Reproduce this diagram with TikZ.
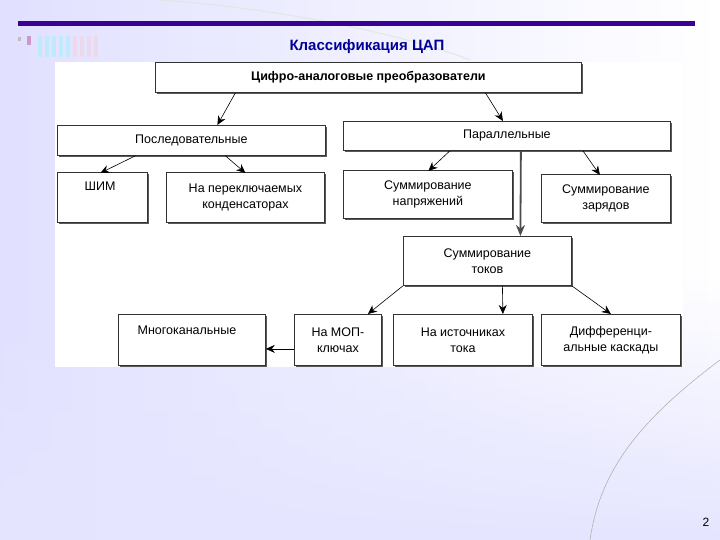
\documentclass[tikz,border=0pt]{standalone}
\usepackage{fontspec}
\setmainfont{Liberation Sans}
\usetikzlibrary{arrows.meta,fadings}
\begin{document}
\begin{tikzpicture}[x=1pt,y=-1pt,
  bx/.style={draw=black!80,line width=0.8pt,fill=white,inner sep=0pt,font=\fontsize{12.5}{16}\selectfont,align=center},
  arr/.style={-{Stealth[length=9pt,width=8pt]},line width=0.6pt},
  tarr/.style={-{Stealth[length=11pt,width=9pt]},line width=1.8pt,draw=black!70}]
\useasboundingbox (0,0) rectangle (720,540);
\shade[left color=blue!12,right color=white] (0,0) rectangle (720,540);
\fill[blue!10,path fading=north] (0,280) rectangle (720,540);
\fill[white] (55,62) rectangle (683,367);
\draw[white!80!gray,line width=1pt] (160,0) .. controls (300,10) and (420,40) .. (470,60);
\draw[gray!60,line width=0.6pt] (720,360) .. controls (640,420) and (600,470) .. (590,540);
\fill[blue!45!violet!80!black] (18,21) rectangle (695,26);
\fill[gray!50] (18,37) rectangle (21,41);
\fill[violet!40] (27,36) rectangle (31,45);
\foreach \i in {0,...,4}{\fill[cyan!25] (38+\i*7,36) rectangle (42+\i*7,57);}
\foreach \i in {0,...,3}{\fill[violet!15] (73+\i*7,36) rectangle (77+\i*7,57);}
\node[text=blue!60!black,font=\bfseries\fontsize{15}{17}\selectfont] (title) at (367,47) {Классификация ЦАП};
\node[font=\fontsize{12}{14}\selectfont] (pg) at (706,522) {2};
% boxes
\def\bxr#1#2#3#4#5#6{\fill[black!65] (#2+2,#3+2) rectangle (#4+2,#5+2);
  \node[bx,minimum width=#4-#2,minimum height=#5-#3,anchor=north west] (#1) at (#2,#3) {#6};}
\bxr{top}{155}{62}{581}{92}{\bfseries Цифро-аналоговые преобразователи}
\bxr{seq}{57}{125}{325}{155}{Последовательные}
\bxr{par}{343}{121}{670}{150}{Параллельные}
\fill[black!65] (59,174) rectangle (149,224);
\node[bx,minimum width=90,minimum height=50,anchor=north west] (pwm) at (57,172) {};
\node[font=\fontsize{12.5}{16}\selectfont] (pwmt) at (100,186) {ШИМ};
\bxr{cap}{166}{172}{324}{222}{На переключаемых\\конденсаторах}
\bxr{volt}{343}{170}{512}{218}{Суммирование\\напряжений}
\bxr{chg}{541}{174}{670}{222}{Суммирование\\зарядов}
\bxr{cur}{403}{236}{571}{285}{Суммирование\\токов}
\fill[black!65] (120,316) rectangle (267,367);
\node[bx,minimum width=147,minimum height=51,anchor=north west] (multi) at (118,314) {};
\node[font=\fontsize{12.5}{16}\selectfont] (multit) at (187,330) {Многоканальные};
\bxr{mos}{294}{314}{381}{365}{На МОП-\\ключах}
\bxr{src}{393}{314}{532}{365}{На источниках\\тока}
\bxr{diff}{541}{314}{680}{365}{Дифференци-\\альные каскады}
% arrows
\draw[arr] ([xshift=-133]top.south) -- ([xshift=26]seq.north);
\draw[arr] ([xshift=117]top.south) -- ([xshift=-4]par.north);
\draw[arr] ([xshift=-56]seq.south) -- ([xshift=-2,yshift=-1]pwm.north);
\draw[arr] ([xshift=34]seq.south) -- ([xshift=0,yshift=-1]cap.north);
\draw[arr] ([xshift=-57]par.south) -- ([xshift=0.5,yshift=-1]volt.north);
\draw[arr] ([xshift=76]par.south) -- ([xshift=-6,yshift=-1]chg.north);
\draw[tarr] ([xshift=14]par.south) -- ([xshift=33]cur.north);
\draw[arr] (cur.south west) -- ([xshift=30]mos.north);
\draw[arr] ([xshift=15]cur.south) -- ([xshift=40]src.north);
\draw[arr] (cur.south east) -- ([xshift=0]diff.north);
\draw[arr] ([yshift=-9]mos.west) -- ([yshift=-9]multi.east);
\end{tikzpicture}
\end{document}
